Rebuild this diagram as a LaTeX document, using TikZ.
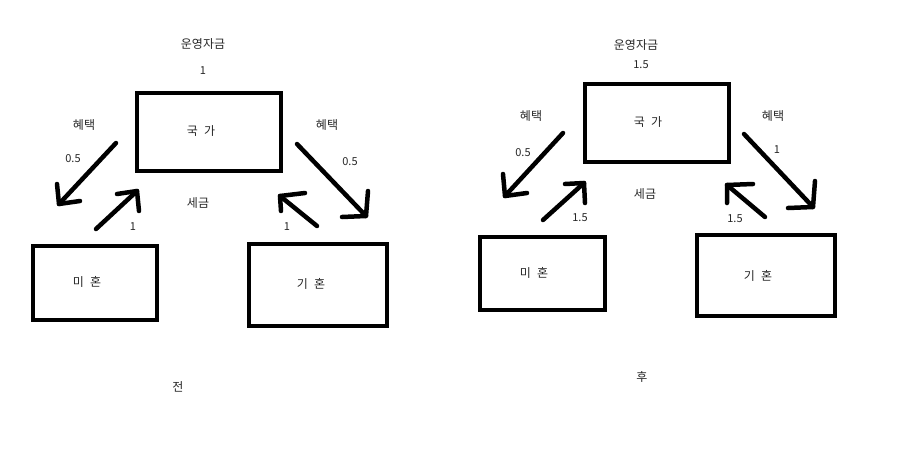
\documentclass[tikz,border=0pt]{standalone}
\usepackage{fontspec}
\setmainfont{Noto Sans CJK KR}
\newcommand{\wsp}{ \kern3.5pt}
\begin{document}
\begin{tikzpicture}[x=1pt,y=-1pt,
  box/.style={draw=black, line width=4pt, inner sep=0pt, rectangle},
  lbl/.style={text=black!85, inner sep=0pt, font=\fontsize{12}{14}\selectfont},
  num/.style={text=black!85, inner sep=0pt, font=\fontsize{11}{13}\selectfont},
  stroke/.style={line width=4.5pt, line cap=round, line join=round, draw=black}]
\useasboundingbox (0,0) rectangle (900,458);
\fill[white] (0,0) rectangle (900,458);
% ---------- left: before ----------
\node[box, minimum width=144pt, minimum height=78pt] (g1) at (209,132) {};
\node[box, minimum width=124pt, minimum height=74pt] (m1) at (95,283) {};
\node[box, minimum width=138pt, minimum height=82pt] (k1) at (318,285) {};
\node[lbl] (g1t) at (201,131) {국\wsp 가};
\node[lbl] (m1t) at (87,282) {미\wsp 혼};
\node[lbl] (k1t) at (311,284) {기\wsp 혼};
\node[lbl] (f1) at (203,44) {운영자금};
\node[num] (f1v) at (203,71) {1};
\node[lbl] (h1l) at (84,125) {혜택};
\node[num] (h1lv) at (73,159) {0.5};
\node[lbl] (h1r) at (327,125) {혜택};
\node[num] (h1rv) at (350,162) {0.5};
\node[lbl] (s1) at (198,203) {세금};
\node[num] (s1l) at (133,227) {1};
\node[num] (s1r) at (287,227) {1};
\node[lbl] (b1) at (178,387) {전};
% arrows left
\coordinate (a1s) at (116,143); \coordinate (a1t) at (59,204);
\coordinate (a1u) at (57,184);  \coordinate (a1v) at (80,201);
\draw[stroke] (a1s) -- (a1t); \draw[stroke] (a1u) -- (a1t) -- (a1v);
\coordinate (a2s) at (96,229);  \coordinate (a2t) at (137,191);
\coordinate (a2u) at (117,194); \coordinate (a2v) at (139,211);
\draw[stroke] (a2s) -- (a2t); \draw[stroke] (a2u) -- (a2t) -- (a2v);
\coordinate (a3s) at (297,144); \coordinate (a3t) at (366,216);
\coordinate (a3u) at (368,191); \coordinate (a3v) at (342,217);
\draw[stroke] (a3s) -- (a3t); \draw[stroke] (a3u) -- (a3t) -- (a3v);
\coordinate (a4s) at (317,226); \coordinate (a4t) at (280,196);
\coordinate (a4u) at (305,193); \coordinate (a4v) at (281,211);
\draw[stroke] (a4s) -- (a4t); \draw[stroke] (a4u) -- (a4t) -- (a4v);
% ---------- right: after ----------
\node[box, minimum width=144pt, minimum height=78pt] (g2) at (657,123) {};
\node[box, minimum width=125pt, minimum height=73pt] (m2) at (542.5,273.5) {};
\node[box, minimum width=138pt, minimum height=81pt] (k2) at (766,275.5) {};
\node[lbl] (g2t) at (648,122) {국\wsp 가};
\node[lbl] (m2t) at (534,273) {미\wsp 혼};
\node[lbl] (k2t) at (758,276) {기\wsp 혼};
\node[lbl] (f2) at (636,45) {운영자금};
\node[num] (f2v) at (641,65) {1.5};
\node[lbl] (h2l) at (531,116) {혜택};
\node[num] (h2lv) at (523,153) {0.5};
\node[lbl] (h2r) at (773,116) {혜택};
\node[num] (h2rv) at (777,150) {1};
\node[lbl] (s2) at (645,194) {세금};
\node[num] (s2l) at (580,218) {1.5};
\node[num] (s2r) at (735,219) {1.5};
\node[lbl] (b2) at (642,377) {후};
% arrows right
\coordinate (b1s) at (563,133); \coordinate (b1t) at (505,196);
\coordinate (b1u) at (503,174); \coordinate (b1v) at (527,193);
\draw[stroke] (b1s) -- (b1t); \draw[stroke] (b1u) -- (b1t) -- (b1v);
\coordinate (b2s) at (543,220); \coordinate (b2t) at (584,183);
\coordinate (b2u) at (565,184); \coordinate (b2v) at (585,203);
\draw[stroke] (b2s) -- (b2t); \draw[stroke] (b2u) -- (b2t) -- (b2v);
\coordinate (b3s) at (744,134); \coordinate (b3t) at (813,207);
\coordinate (b3u) at (815,181); \coordinate (b3v) at (788,208);
\draw[stroke] (b3s) -- (b3t); \draw[stroke] (b3u) -- (b3t) -- (b3v);
\coordinate (b4s) at (765,217); \coordinate (b4t) at (727,185);
\coordinate (b4u) at (753,184); \coordinate (b4v) at (727,203);
\draw[stroke] (b4s) -- (b4t); \draw[stroke] (b4u) -- (b4t) -- (b4v);
\end{tikzpicture}
\end{document}
